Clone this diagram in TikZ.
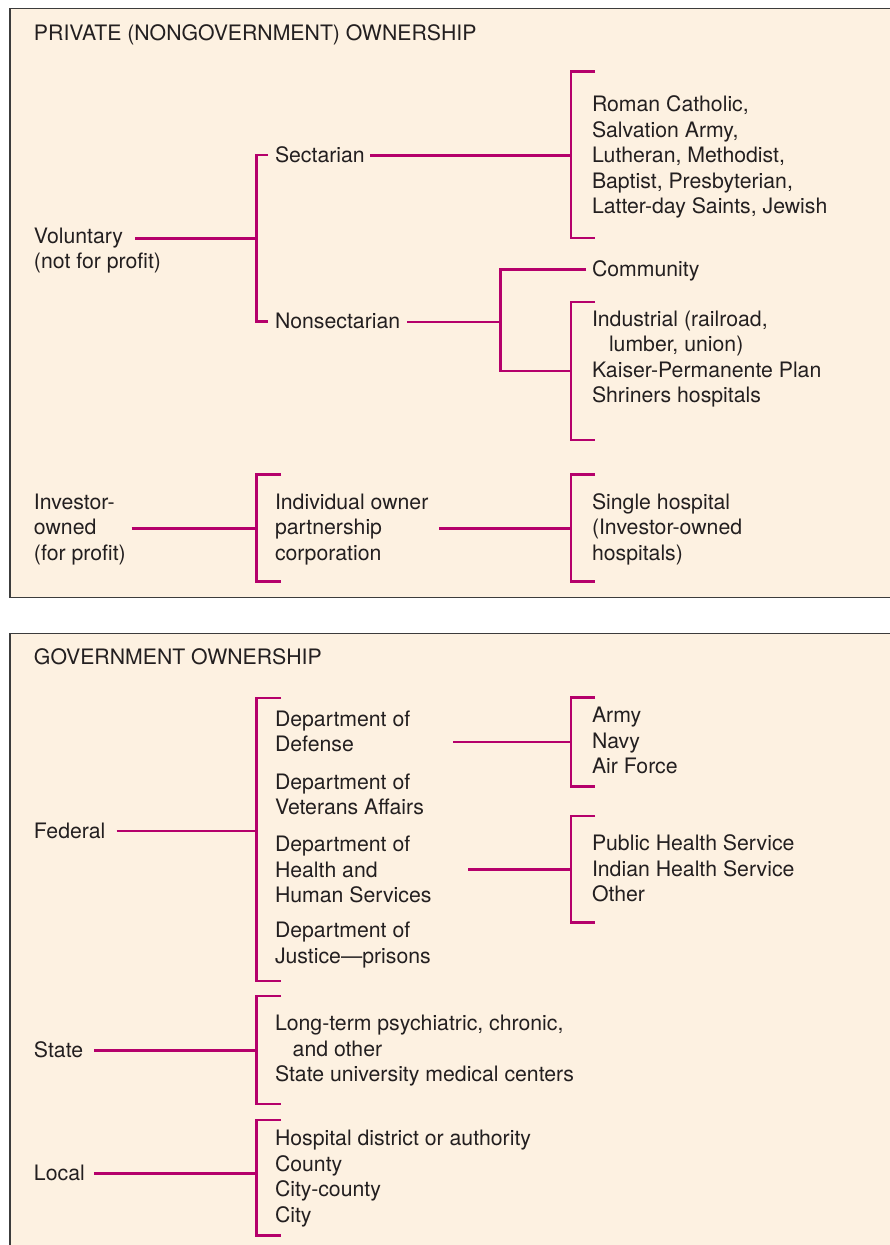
\documentclass[tikz,border=0pt]{standalone}
\usepackage{fontspec}
\setmainfont{TeX Gyre Heros}
\definecolor{cream}{HTML}{FDF1E1}
\definecolor{mag}{HTML}{B5006B}
\definecolor{ink}{HTML}{231F20}
\definecolor{framecol}{HTML}{3C3C3C}
\begin{document}
% multi-line labels: the base anchor is the baseline of the LAST line
\begin{tikzpicture}[x=1pt,y=-1pt,
  lbl/.style={anchor=base west, inner sep=0pt, outer sep=0pt, align=left, text=ink,
              font=\fontsize{21.25}{25.5}\selectfont},
  conn/.style={draw=mag, line width=2.6pt, line join=miter},
  panel/.style={fill=cream, draw=framecol, line width=1.6pt}]
\useasboundingbox (0,0) rectangle (889,1245);
\fill[white] (0,0) rectangle (889,1245);
\draw[panel] (9.75,8.5) rectangle (905,597.5);
\draw[panel] (9.75,633.3) rectangle (905,1265);

% ---------- private ownership ----------
\node[lbl] (t1) at (34,40) {PRIVATE (NONGOVERNMENT) OWNERSHIP};
\node[lbl] (vol) at (34,268.8) {Voluntary\\(not for profit)};
\node[lbl] (sect) at (275,162) {Sectarian};
\node[lbl] (nons) at (275,328.3) {Nonsectarian};
\node[lbl] (denom) at (592,213.7) {Roman Catholic,\\Salvation Army,\\Lutheran, Methodist,\\Baptist, Presbyterian,\\Latter-day Saints, Jewish};
\node[lbl] (comm) at (592,276) {Community};
\node[lbl] (indu) at (592,402.5) {Industrial (railroad,\\\hspace*{17pt}lumber, union)\\Kaiser-Permanente Plan\\Shriners hospitals};
\node[lbl] (inv) at (34,560.3) {Investor-\\owned\\(for profit)};
\node[lbl] (indiv) at (275,560.3) {Individual owner\\partnership\\corporation};
\node[lbl] (single) at (592,560.3) {Single hospital\\(Investor-owned\\hospitals)};

% voluntary -> sectarian / nonsectarian
\coordinate (volR) at (135,238.3);
\coordinate (b1m) at (256.7,238.3);
\coordinate (b1t) at (256.7,155);
\coordinate (b1b) at (256.7,321.7);
\coordinate (b1ts) at (268,155);
\coordinate (b1bs) at (268,321.7);
\draw[conn] (volR) -- (b1m);
\draw[conn] (b1ts) -- (b1t) -- (b1b) -- (b1bs);

% sectarian -> denominations
\coordinate (sectR) at (370,155.5);
\coordinate (b2m) at (571,155.5);
\coordinate (b2t) at (571,71.7);
\coordinate (b2b) at (571,238);
\coordinate (b2ts) at (595,71.7);
\coordinate (b2bs) at (595,238);
\draw[conn] (sectR) -- (b2m);
\draw[conn] (b2ts) -- (b2t) -- (b2b) -- (b2bs);

% nonsectarian -> community / industrial
\coordinate (nonsR) at (407,322);
\coordinate (b3m) at (500.7,322);
\coordinate (b3t) at (500.7,269.3);
\coordinate (b3b) at (500.7,371);
\coordinate (commL) at (586,269.3);
\coordinate (b4m) at (571,371);
\coordinate (b4t) at (571,302);
\coordinate (b4b) at (571,440);
\coordinate (b4ts) at (595,302);
\coordinate (b4bs) at (595,440);
\draw[conn] (nonsR) -- (b3m);
\draw[conn] (commL) -- (b3t) -- (b3b) -- (b4m);
\draw[conn] (b4ts) -- (b4t) -- (b4b) -- (b4bs);

% investor-owned
\coordinate (invR) at (131.7,528.3);
\coordinate (b5m) at (256.7,528.3);
\coordinate (b5t) at (256.7,474.3);
\coordinate (b5b) at (256.7,581.7);
\coordinate (b5ts) at (281,474.3);
\coordinate (b5bs) at (281,581.7);
\draw[conn] (invR) -- (b5m);
\draw[conn] (b5ts) -- (b5t) -- (b5b) -- (b5bs);

\coordinate (indivR) at (439.3,528.3);
\coordinate (b6m) at (571,528.3);
\coordinate (b6t) at (571,474.3);
\coordinate (b6b) at (571,581.7);
\coordinate (b6ts) at (595,474.3);
\coordinate (b6bs) at (595,581.7);
\draw[conn] (indivR) -- (b6m);
\draw[conn] (b6ts) -- (b6t) -- (b6b) -- (b6bs);

% ---------- government ownership ----------
\node[lbl] (t2) at (34,664) {GOVERNMENT OWNERSHIP};
\node[lbl] (fed) at (34,838.3) {Federal};
\node[lbl] (dod) at (275,751.5) {Department of\\Defense};
\node[lbl] (dva) at (275,814.8) {Department of\\Veterans Affairs};
\node[lbl] (hhs) at (275,902.7) {Department of\\Health and\\Human Services};
\node[lbl] (doj) at (275,963.2) {Department of\\Justice—prisons};
\node[lbl] (mil) at (592,773.7) {Army\\Navy\\Air Force};
\node[lbl] (phs) at (592,901.7) {Public Health Service\\Indian Health Service\\Other};
\node[lbl] (state) at (34,1057.3) {State};
\node[lbl] (stl) at (275,1081.7) {Long-term psychiatric, chronic,\\\hspace*{17.7pt}and other\\State university medical centers};
\node[lbl] (local) at (34,1180) {Local};
\node[lbl] (locl) at (275,1222.2) {Hospital district or authority\\County\\City-county\\City};

% federal
\coordinate (fedR) at (116.7,831);
\coordinate (b7m) at (256.7,831);
\coordinate (b7t) at (256.7,698);
\coordinate (b7b) at (256.7,981);
\coordinate (b7ts) at (281,698);
\coordinate (b7bs) at (281,981);
\draw[conn] (fedR) -- (b7m);
\draw[conn] (b7ts) -- (b7t) -- (b7b) -- (b7bs);

% defense
\coordinate (dodR) at (453.3,742);
\coordinate (b8m) at (571,742);
\coordinate (b8t) at (571,697.5);
\coordinate (b8b) at (571,786.7);
\coordinate (b8ts) at (595,697.5);
\coordinate (b8bs) at (595,786.7);
\draw[conn] (dodR) -- (b8m);
\draw[conn] (b8ts) -- (b8t) -- (b8b) -- (b8bs);

% health and human services
\coordinate (hhsR) at (468.3,869.5);
\coordinate (b9m) at (571,869.5);
\coordinate (b9t) at (571,816);
\coordinate (b9b) at (571,922.7);
\coordinate (b9ts) at (595,816);
\coordinate (b9bs) at (595,922.7);
\draw[conn] (hhsR) -- (b9m);
\draw[conn] (b9ts) -- (b9t) -- (b9b) -- (b9bs);

% state
\coordinate (stateR) at (94,1050.3);
\coordinate (b10m) at (256.7,1050.3);
\coordinate (b10t) at (256.7,996);
\coordinate (b10b) at (256.7,1104);
\coordinate (b10ts) at (281,996);
\coordinate (b10bs) at (281,1104);
\draw[conn] (stateR) -- (b10m);
\draw[conn] (b10ts) -- (b10t) -- (b10b) -- (b10bs);

% local
\coordinate (localR) at (94,1173.3);
\coordinate (b11m) at (256.7,1173.3);
\coordinate (b11t) at (256.7,1120);
\coordinate (b11b) at (256.7,1235.7);
\coordinate (b11ts) at (281,1120);
\coordinate (b11bs) at (281,1235.7);
\draw[conn] (localR) -- (b11m);
\draw[conn] (b11ts) -- (b11t) -- (b11b) -- (b11bs);
\end{tikzpicture}
\end{document}
